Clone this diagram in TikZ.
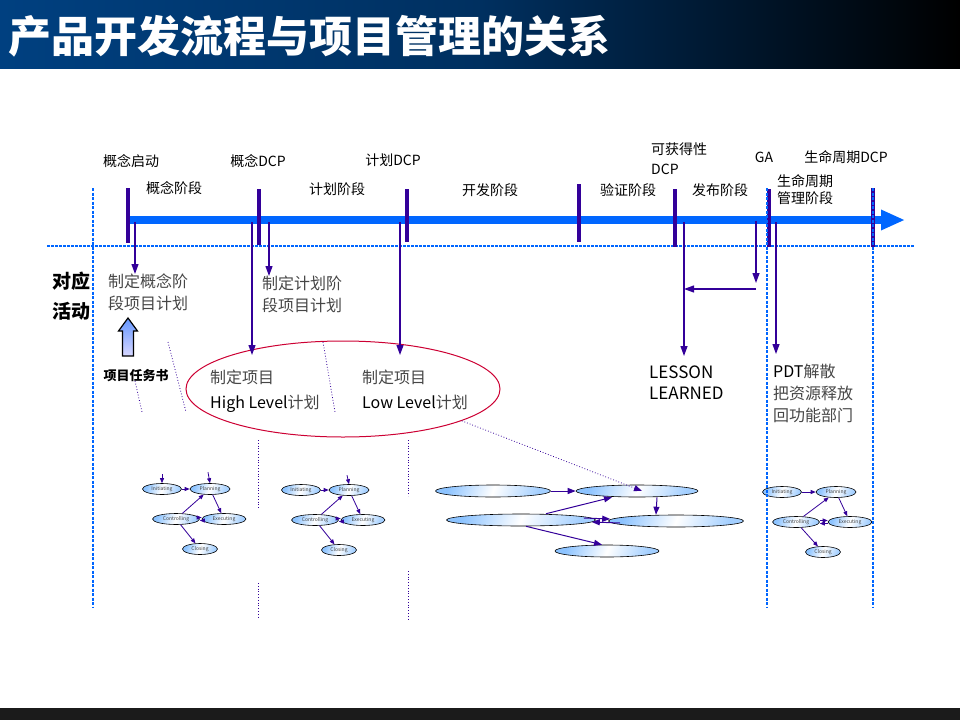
\documentclass[tikz,border=0pt]{standalone}
\usepackage{fontspec}
\setmainfont{Noto Sans CJK SC}
\usetikzlibrary{arrows.meta,shapes.geometric,shapes.arrows,positioning}

\definecolor{titleblue}{RGB}{0,64,128}
\definecolor{barblue}{RGB}{0,102,255}
\definecolor{mspurple}{RGB}{51,0,153}
\definecolor{ringred}{RGB}{204,0,51}
\definecolor{graytext}{RGB}{70,70,70}
\definecolor{bubble}{RGB}{140,195,255}
\definecolor{footgray}{RGB}{27,27,27}
\definecolor{arrowtop}{RGB}{100,150,255}
\definecolor{arrowbot}{RGB}{215,215,255}

\tikzset{
  ms/.style={draw=mspurple, line width=3.5pt},
  gridline/.style={draw=barblue, line width=1.6pt, dash pattern=on 3pt off 1.5pt},
  flow/.style={draw=mspurple, line width=1.2pt, -{Triangle[length=10pt,width=7pt]}},
  mflow/.style={draw=mspurple, line width=0.8pt, -{Triangle[length=5pt,width=4pt]}},
  dflow/.style={draw=mspurple, line width=1pt, -{Triangle[length=8pt,width=6pt]}},
  dots/.style={draw=mspurple, line width=0.8pt, dotted},
  toplabel/.style={font=\fontsize{14}{20}\selectfont, inner sep=0pt, align=left},
  activity/.style={font=\fontsize{16}{22}\selectfont, text=graytext, inner sep=0pt, align=left},
  bubble/.style={ellipse, draw, line width=0.6pt, inner sep=0pt, left color=bubble,
    right color=bubble!80, middle color=white, shading angle=70,
    font=\fontsize{5}{6}\selectfont, text=black!75},
}

\begin{document}
\begin{tikzpicture}[x=1pt,y=-1pt]
\useasboundingbox (0,0) rectangle (960,720);

% title bar
\shade[left color=titleblue, right color=black, middle color=titleblue!75!black] (0,0) rectangle (960,68);
\node[anchor=west, text=white, inner sep=0pt, font=\fontsize{43}{43}\selectfont\bfseries] (title) at (8,36) {产品开发流程与项目管理的关系};
\fill[footgray] (0,708) rectangle (960,720);

% timeline
\draw[barblue, line width=8pt, line cap=round, -{Triangle[length=24pt,width=19pt]}] (130,220) -- (905,220);
\draw[draw=barblue, line width=2.2pt, dash pattern=on 2.5pt off 1.5pt] (47,246) -- (915,246);
\foreach \x/\t/\b in {128/188/243, 259/189/245, 407/189/242, 579/184/242, 675/189/247, 769/189/247, 873/188/247}
  \draw[ms] (\x,\t) -- (\x,\b);

% milestones
\node[toplabel] (kick) at (131,161) {概念启动};
\node[toplabel] (cdcp) at (258,161) {概念DCP};
\node[toplabel] (pdcp) at (393,160) {计划DCP};
\node[toplabel, anchor=north west] (adcp) at (651,143) {可获得性\\DCP};
\node[toplabel] (ga) at (764,157) {GA};
\node[toplabel] (ldcp) at (846,157) {生命周期DCP};

% phases
\node[toplabel] (ph1) at (174,188) {概念阶段};
\node[toplabel] (ph2) at (337,189) {计划阶段};
\node[toplabel] (ph3) at (490,190) {开发阶段};
\node[toplabel] (ph4) at (628,190) {验证阶段};
\node[toplabel] (ph5) at (720,190) {发布阶段};
\node[toplabel, anchor=north west, font=\fontsize{14}{17}\selectfont] (ph6) at (777,174) {生命周期\\管理阶段};

% activities
\node[anchor=north west, inner sep=0pt, align=left, font=\fontsize{19}{30}\selectfont\bfseries] (act) at (52,272) {对应\\活动};
\node[activity, anchor=north west] (concplan) at (108,274) {制定概念阶\\段项目计划};
\node[activity, anchor=north west] (planplan) at (262,276) {制定计划阶\\段项目计划};
\shade[draw=black, line width=1.2pt, top color=arrowtop, bottom color=arrowbot]
  (128,318) -- (137.5,331) -- (133.5,331) -- (133.5,356) -- (122.5,356) -- (122.5,331) -- (118.5,331) -- cycle;
\node[inner sep=0pt, font=\fontsize{13}{15}\selectfont\bfseries] (book) at (136,376) {项目任务书};
\node[ellipse, draw=ringred, line width=1pt, minimum width=314pt, minimum height=96pt] (ring) at (343,389) {};
\node[activity, anchor=north west, font=\fontsize{16}{25}\selectfont] (hlplan) at (210,370) {制定项目\\\textcolor{black}{High Level}计划};
\node[activity, anchor=north west, font=\fontsize{16}{25}\selectfont] (llplan) at (362,370) {制定项目\\\textcolor{black}{Low Level}计划};
\node[anchor=north west, inner sep=0pt, align=left, font=\fontsize{17}{21}\selectfont] (lesson) at (649,366) {LESSON\\LEARNED};
\node[activity, anchor=north west, font=\fontsize{16}{22}\selectfont] (pdt) at (773,364) {\textcolor{black}{PDT}解散\\把资源释放\\回功能部门};

% arrows from the timeline
\coordinate (t1) at (135,222);
\coordinate (t2) at (252,222);
\coordinate (t3) at (269,222);
\coordinate (t4) at (400,222);
\coordinate (t5) at (684,222);
\coordinate (t6) at (756,221);
\coordinate (t7) at (776,222);
\coordinate (hl) at (252,355);
\coordinate (ll) at (400,355);
\coordinate (back) at (756,289);
\draw[flow] (t1) -- (t1 |- concplan.north);
\draw[flow] (t3) -- (t3 |- planplan.north);
\draw[flow] (t2) -- (hl);
\draw[flow] (t4) -- (ll);
\draw[flow] (t5) -- ([yshift=10pt]t5 |- lesson.north);
\draw[flow] (t6) -- ([yshift=6pt]back);
\draw[flow] (back) -- (t5 |- back);
\draw[flow] (t7) -- ([yshift=10pt]t7 |- pdt.north);

% dotted guides
\draw[dots] (168,342) -- (186,412);
\draw[dots] (135,381) -- (142,412);
\draw[dots] (323,342) -- (335,412);
\foreach \x/\t/\b in {258/440/508, 258/583/618, 408/440/496, 408/571/620}
  \draw[dots] (\x,\t) -- (\x,\b);

% process groups
\foreach \g/\x/\y/\w in {a/162/489/48, b/301/490/48, c/782/492/54} {
  \node[bubble, minimum width=39pt, minimum height=11pt] (\g init) at (\x,\y) {Initiating};
  \node[bubble, minimum width=40pt, minimum height=11pt] (\g plan) at (\x+\w,\y) {Planning};
  \node[bubble, minimum width=47pt, minimum height=11pt] (\g ctrl) at (\x+14,\y+30) {Controlling};
  \node[bubble, minimum width=44pt, minimum height=11pt] (\g exec) at (\x+\w+14,\y+30) {Executing};
  \node[bubble, minimum width=35pt, minimum height=11pt] (\g close) at (\x+\w/2+14,\y+60) {Closing};
  \draw[mflow] (\g init) -- (\g plan);
  \draw[mflow] (\g plan) -- (\g exec);
  \draw[mflow] ([yshift=1.5pt]\g ctrl.east) -- ([yshift=1.5pt]\g exec.west);
  \draw[mflow] ([yshift=-1.5pt]\g exec.west) -- ([yshift=-1.5pt]\g ctrl.east);
  \draw[mflow] (\g ctrl) -- (\g plan);
  \draw[mflow] (\g ctrl) -- (\g close);
}
\draw[mflow] ([yshift=9pt]ainit.north) -- (ainit.north);
\draw[mflow] ([xshift=-2pt,yshift=11pt]aplan.north) -- (aplan.north);
\draw[mflow] ([xshift=-2pt,yshift=9pt]bplan.north) -- (bplan.north);

% development group
\node[bubble, minimum width=115pt, minimum height=12pt] (dinit) at (493,491) {};
\node[bubble, minimum width=122pt, minimum height=12pt] (dplan) at (637,491) {};
\node[bubble, minimum width=149pt, minimum height=12pt] (dctrl) at (521,520) {};
\node[bubble, minimum width=135pt, minimum height=12pt] (dexec) at (676,521) {};
\node[bubble, minimum width=104pt, minimum height=12pt] (dclose) at (607,551) {};
\draw[dflow] (dinit) -- (dplan);
\draw[dflow] ([xshift=20pt]dplan.south) -- ([xshift=-20pt]dexec.north);
\draw[dflow] ([xshift=25pt]dctrl.north) -- ([xshift=-25pt]dplan.south);
\draw[dflow] ([xshift=-12pt,yshift=2pt]dctrl.east) -- ([xshift=2pt,yshift=2pt]dexec.west);
\draw[dflow] ([xshift=12pt,yshift=-2pt]dexec.west) -- ([xshift=-4pt,yshift=-2pt]dctrl.east);
\draw[dflow] ([xshift=5pt]dctrl.south) -- ([xshift=-5pt]dclose.north);
\draw[dots, -{Triangle[length=8pt,width=6pt]}] (ring.-15) -- ([xshift=5pt]dplan.center);

% lane borders
\draw[gridline] (93,188) -- (93,608);
\draw[gridline] (767,188) -- (767,608);
\draw[gridline] (873,188) -- (873,608);
\end{tikzpicture}
\end{document}
